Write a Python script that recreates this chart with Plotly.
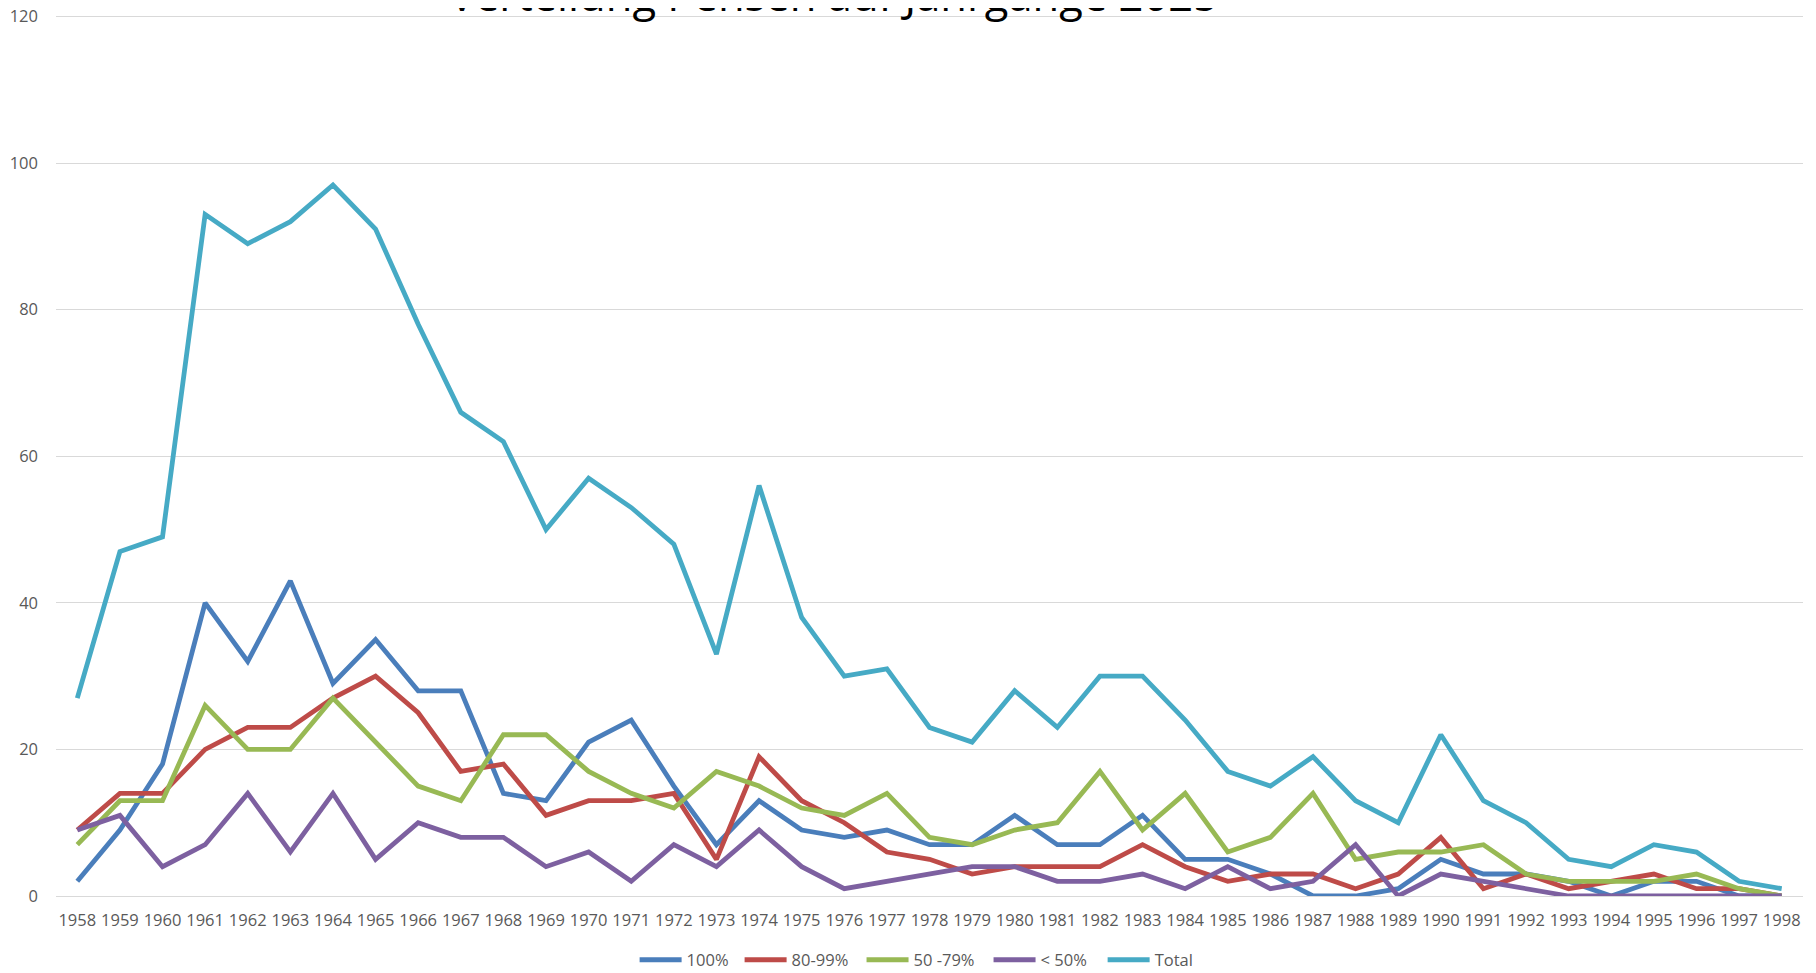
import plotly.graph_objects as go

title_text = "Verteilung Pensen auf Jahrgänge 2025"

years = ["1958", "1959", "1960", "1961", "1962", "1963", "1964", "1965", "1966", "1967",
         "1968", "1969", "1970", "1971", "1972", "1973", "1974", "1975", "1976", "1977",
         "1978", "1979", "1980", "1981", "1982", "1983", "1984", "1985", "1986", "1987",
         "1988", "1989", "1990", "1991", "1992", "1993", "1994", "1995", "1996", "1997",
         "1998"]

p100 = [2, 9, 18, 40, 32, 43, 29, 35, 28, 28,
        14, 13, 21, 24, 15, 7, 13, 9, 8, 9,
        7, 7, 11, 7, 7, 11, 5, 5, 3, 0,
        0, 1, 5, 3, 3, 2, 0, 2, 2, 0,
        0]
p80_99 = [9, 14, 14, 20, 23, 23, 27, 30, 25, 17,
          18, 11, 13, 13, 14, 5, 19, 13, 10, 6,
          5, 3, 4, 4, 4, 7, 4, 2, 3, 3,
          1, 3, 8, 1, 3, 1, 2, 3, 1, 1,
          0]
p50_79 = [7, 13, 13, 26, 20, 20, 27, 21, 15, 13,
          22, 22, 17, 14, 12, 17, 15, 12, 11, 14,
          8, 7, 9, 10, 17, 9, 14, 6, 8, 14,
          5, 6, 6, 7, 3, 2, 2, 2, 3, 1,
          0]
p_lt50 = [9, 11, 4, 7, 14, 6, 14, 5, 10, 8,
          8, 4, 6, 2, 7, 4, 9, 4, 1, 2,
          3, 4, 4, 2, 2, 3, 1, 4, 1, 2,
          7, 0, 3, 2, 1, 0, 0, 0, 0, 0,
          0]
total = [27, 47, 49, 93, 89, 92, 97, 91, 78, 66,
         62, 50, 57, 53, 48, 33, 56, 38, 30, 31,
         23, 21, 28, 23, 30, 30, 24, 17, 15, 19,
         13, 10, 22, 13, 10, 5, 4, 7, 6, 2,
         1]

series_names = ["100%", "80-99%", "50 -79%", "< 50%", "Total"]
series_values = [p100, p80_99, p50_79, p_lt50, total]
series_colors = ["#4A7EBB", "#BE4B48", "#98B954", "#7D60A0", "#46AAC5"]

y_ticks = [0, 20, 40, 60, 80, 100, 120]

# legend entry x positions (paper fraction), one legend per series
legend_x = [0.3312, 0.3913, 0.4611, 0.5338, 0.5991]
legend_ids = ["legend", "legend2", "legend3", "legend4", "legend5"]

FONT = "Open Sans, Liberation Sans, sans-serif"

fig = go.Figure()
for name, vals, col, lid in zip(series_names, series_values, series_colors, legend_ids):
    fig.add_trace(go.Scatter(
        x=years, y=vals, name=name, mode="lines",
        line=dict(color=col, width=4.8),
        legend=lid,
    ))

legend_layout = {}
for lid, lx in zip(legend_ids, legend_x):
    legend_layout[lid] = dict(
        orientation="h", x=lx, xanchor="left", y=-0.0727, yanchor="middle",
        font=dict(family=FONT, size=16.5, color="#595959"),
        bgcolor="rgba(0,0,0,0)", borderwidth=0, itemwidth=42,
    )

# page body has an 8px margin, so the figure is sized to fit the window;
# y range slightly above 120 so the top gridline is drawn inside the plot
fig.update_layout(
    width=1808, height=965,
    margin=dict(l=48, r=13, t=6.5, b=77, autoexpand=False),
    paper_bgcolor="white", plot_bgcolor="white",
    font=dict(family=FONT, size=16.5, color="#595959"),
    showlegend=True,
    annotations=[dict(
        text=title_text, xref="paper", yref="paper",
        x=0.4453, y=1.0233, xanchor="center", yanchor="middle",
        showarrow=False, font=dict(family=FONT, size=43.5, color="#000000"),
    )],
    **legend_layout,
)

fig.update_xaxes(
    type="category", range=[-0.5, 40.5],
    showgrid=False, showline=False, zeroline=False, ticks="",
    ticklabelstandoff=12, automargin=False,
    tickfont=dict(family=FONT, size=16.5, color="#595959"),
    fixedrange=True,
)
fig.update_yaxes(
    range=[0, 120.2], tickvals=y_ticks, ticktext=[str(v) for v in y_ticks],
    showgrid=True, gridcolor="#D9D9D9", gridwidth=1.3,
    zeroline=True, zerolinecolor="#D9D9D9", zerolinewidth=1.3,
    showline=False, ticks="", ticklabelstandoff=17, automargin=False,
    ticklabeloverflow="allow",
    tickfont=dict(family=FONT, size=16.5, color="#595959"),
    fixedrange=True,
)

fig.write_html("out.html", config={"displayModeBar": False})
